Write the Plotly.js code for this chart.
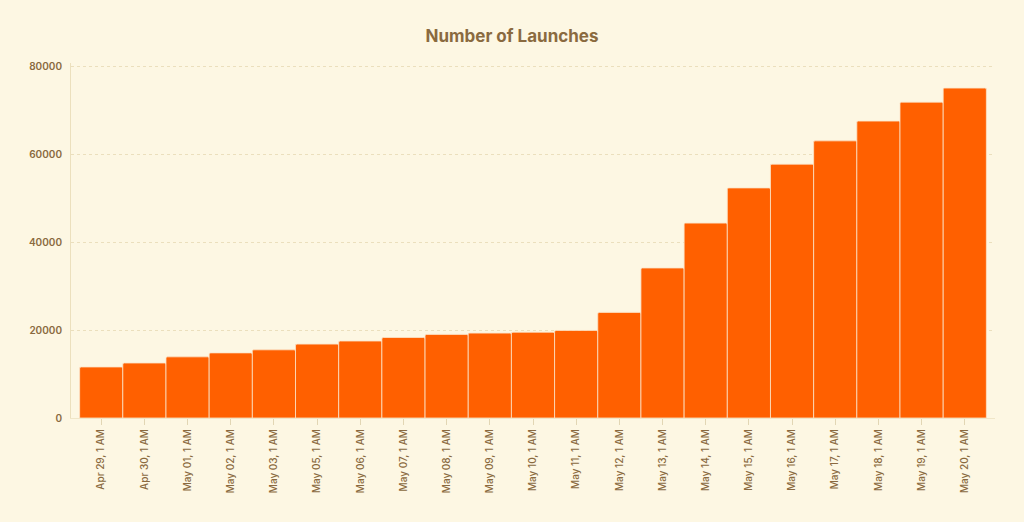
<!DOCTYPE html>
<html>
<head>
<meta charset="utf-8">
<script src="https://cdn.plot.ly/plotly-3.0.1.min.js"></script>
<style>
html,body{margin:0;padding:0;background:#fdf7e3;}
#chart{width:1024px;height:522px;}
</style>
</head>
<body>
<div id="chart"></div>
<script>
const categories = ["Apr 29, 1 AM","Apr 30, 1 AM","May 01, 1 AM","May 02, 1 AM","May 03, 1 AM","May 05, 1 AM","May 06, 1 AM","May 07, 1 AM","May 08, 1 AM","May 09, 1 AM","May 10, 1 AM","May 11, 1 AM","May 12, 1 AM","May 13, 1 AM","May 14, 1 AM","May 15, 1 AM","May 16, 1 AM","May 17, 1 AM","May 18, 1 AM","May 19, 1 AM","May 20, 1 AM"];
const launches = [11600,12500,13900,14800,15500,16800,17500,18300,19000,19300,19500,19900,24000,34100,44300,52300,57700,63000,67500,71800,75000];
const yTicks = [0,20000,40000,60000,80000];

const textColor = '#8a6a3f';
const trace = {
  type: 'bar',
  x: categories,
  y: launches,
  marker: {color: '#ff6000', line: {color: '#fbe3c8', width: 0.8}},
  hoverinfo: 'x+y'
};
const layout = {
  width: 1024, height: 522,
  paper_bgcolor: '#fdf7e3', plot_bgcolor: '#fdf7e3',
  margin: {l: 71, r: 29, t: 63, b: 104},
  bargap: 0,
  barcornerradius: 2,
  showlegend: false,
  title: {text: '<b>Number of Launches</b>', x: 0.5, xanchor: 'center', y: 0.93, yanchor: 'middle',
          font: {family: 'Inter, "Open Sans", sans-serif', size: 17, color: textColor}},
  xaxis: {
    type: 'category',
    range: [-0.7, 20.7],
    tickangle: -90,
    ticks: 'outside', ticklen: 6, tickcolor: '#e2d6b4', tickwidth: 1,
    showline: true, linecolor: '#f0e6c8', linewidth: 1,
    showgrid: false,
    tickfont: {family: 'Inter, "Open Sans", sans-serif', size: 10, color: textColor, weight: 500}
  },
  yaxis: {
    range: [0, 80700],
    tickvals: yTicks,
    ticktext: yTicks.map(String),
    showline: true, linecolor: '#ece0bd', linewidth: 1,
    showgrid: true, gridcolor: '#ebdfbd', griddash: 'dot', gridwidth: 1,
    zeroline: false,
    ticks: '', ticklabelstandoff: 6,
    tickfont: {family: 'Inter, "Open Sans", sans-serif', size: 10, color: textColor, weight: 600}
  }
};
Plotly.newPlot('chart', [trace], layout, {displayModeBar: false, staticPlot: true});
</script>
</body>
</html>
